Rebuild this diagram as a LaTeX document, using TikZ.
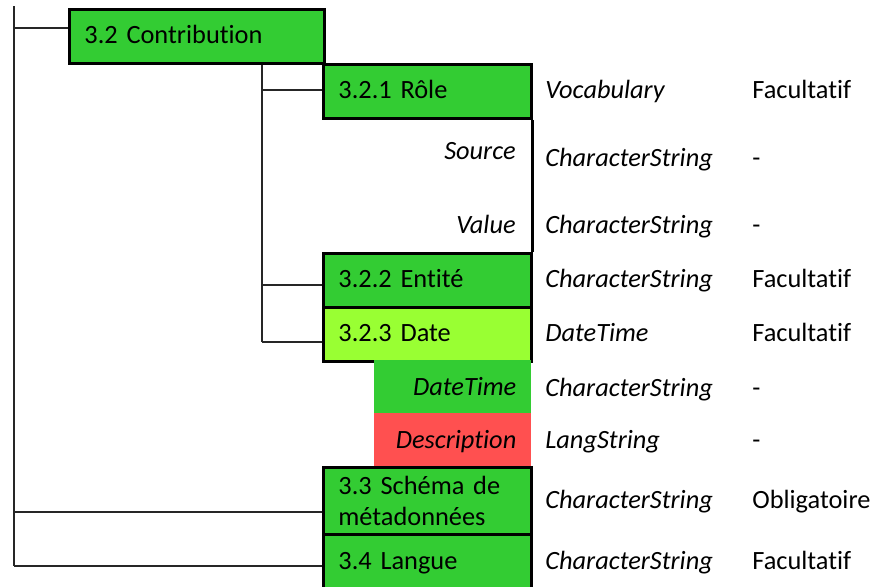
\documentclass[tikz,border=0pt]{standalone}
\usepackage{fontspec}
\setmainfont[Ligatures=NoCommon]{Carlito}
\usepackage{xcolor}
\definecolor{lomGreen}{HTML}{33CC33}
\definecolor{lomLime}{HTML}{99FF33}
\definecolor{lomRed}{HTML}{FF5050}
\usepackage{tikz}
\usetikzlibrary{positioning, calc}

\begin{document}
\begin{tikzpicture}[
    x=0.02cm, y=-0.02cm,
    font=\fontsize{15}{18}\selectfont,
    element/.style={
        draw=black,
        line width=1.6pt,
        fill=lomGreen,
        rectangle,
        anchor=north west,
        inner xsep=0.3cm,
        inner ysep=0pt,
        text width=3.56cm,
        minimum height=1.08cm,
        align=left
    },
    oneline/.style={
        text height=2.1ex,
        text depth=0.3ex
    },
    subcell/.style={
        rectangle,
        anchor=north west,
        inner xsep=0.3cm,
        inner ysep=0pt,
        text width=2.54cm,
        minimum height=1.06cm,
        align=right,
        text height=2.2ex,
        text depth=0.2ex,
        font=\fontsize{15}{18}\selectfont\itshape
    },
    attr/.style={
        inner sep=0pt,
        anchor=base east,
        font=\fontsize{15}{18}\selectfont\itshape
    },
    type/.style={
        inner sep=0pt,
        anchor=base west,
        font=\fontsize{15}{18}\selectfont\itshape
    },
    need/.style={
        inner sep=0pt,
        anchor=base west
    },
    link/.style={
        line width=1.1pt,
        draw=black!85
    }
]

\clip (0,0) rectangle (878,586);

% Trunks
\coordinate (top) at (14,6);
\coordinate (j1) at (14,28);
\coordinate (j2) at (14,512);
\coordinate (j3) at (14,566);
\coordinate (k0) at (262,62);
\coordinate (k1) at (262,90);
\coordinate (k2) at (262,285);
\coordinate (k3) at (262,342);
\draw[link] (top) -- (j3);
\draw[link] (k0) -- (k3);

% Elements
\node[element, oneline, text width=4.5cm] (contrib) at (68,8) {3.2 Contribution};
\node[element, oneline] (role) at (322,63) {3.2.1 Rôle};
\node[element, oneline] (entite) at (322,252) {3.2.2 Entité};
\node[element, oneline, fill=lomLime] (date) at (322,306) {3.2.3 Date};
\node[subcell, fill=lomGreen] (datetime) at (374,360) {DateTime};
\node[subcell, fill=lomRed] (descr) at (374,413) {Description};
\node[element, minimum height=1.34cm] (schema) at (322,466) {3.3 Schéma de\\métadonnées};
\node[element, oneline, minimum height=1.12cm] (langue) at (322,533) {3.4 Langue};

% Branches
\draw[link] (j1) -- (j1 -| contrib.west);
\draw[link] (j2) -- (j2 -| schema.west);
\draw[link] (j3) -- (j3 -| langue.west);
\draw[link] (k1) -- (k1 -| role.west);
\draw[link] (k2) -- (k2 -| entite.west);
\draw[link] (k3) -- (k3 -| date.west);
\draw[line width=1.6pt] (role.south east) -- (entite.north east);

% Sub attributes
\node[attr] (source) at (516,159.5) {Source};
\node[attr] (value) at (516,233.5) {Value};

% Types
\node[type] (t1) at (545,98.5) {Vocabulary};
\node[type] (t2) at (545,166.5) {CharacterString};
\node[type] (t3) at (545,233.5) {CharacterString};
\node[type] (t4) at (545,287.5) {CharacterString};
\node[type] (t5) at (545,341.5) {DateTime};
\node[type] (t6) at (545,396.5) {CharacterString};
\node[type] (t7) at (545,448.5) {LangString};
\node[type] (t8) at (545,508.5) {CharacterString};
\node[type] (t9) at (545,569.5) {CharacterString};

% Obligation
\node[need] (n1) at (752,98.5) {Facultatif};
\node[need] (n2) at (752,166.5) {-};
\node[need] (n3) at (752,233.5) {-};
\node[need] (n4) at (752,287.5) {Facultatif};
\node[need] (n5) at (752,341.5) {Facultatif};
\node[need] (n6) at (752,396.5) {-};
\node[need] (n7) at (752,448.5) {-};
\node[need] (n8) at (752,508.5) {Obligatoire};
\node[need] (n9) at (752,569.5) {Facultatif};

\end{tikzpicture}
\end{document}
